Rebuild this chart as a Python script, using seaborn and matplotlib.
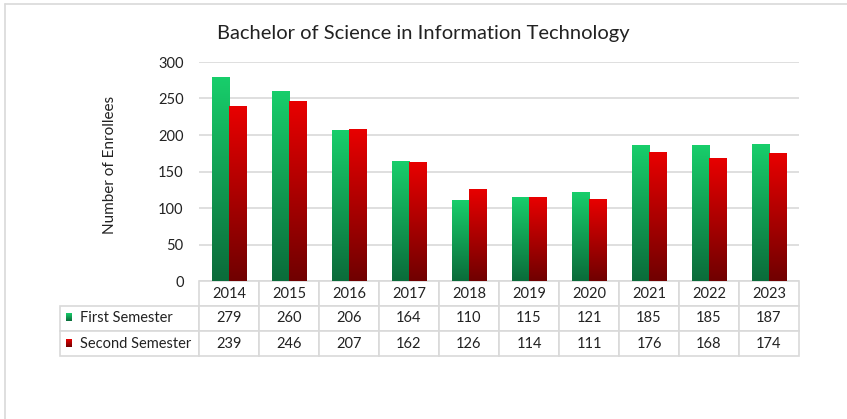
import numpy as np
import pandas as pd
import seaborn as sns
import matplotlib.pyplot as plt
from matplotlib.colors import LinearSegmentedColormap
from matplotlib.lines import Line2D

years = ['2014', '2015', '2016', '2017', '2018', '2019', '2020', '2021', '2022', '2023']
first_sem = [279, 260, 206, 164, 110, 115, 121, 185, 185, 187]
second_sem = [239, 246, 207, 162, 126, 114, 111, 176, 168, 174]
series = ['First Semester', 'Second Semester']

df = pd.DataFrame({
    'year': years * 2,
    'semester': [series[0]] * len(years) + [series[1]] * len(years),
    'enrollees': first_sem + second_sem,
})

green_cmap = LinearSegmentedColormap.from_list('g', ['#0b6b3a', '#18ce6b'])
red_cmap = LinearSegmentedColormap.from_list('r', ['#700000', '#e80000'])
cmaps = {series[0]: green_cmap, series[1]: red_cmap}

sns.set_theme(style='white')
plt.rcParams['font.family'] = ['Lato', 'DejaVu Sans']
text_color = '#222222'
grid_color = '#d9d9d9'

W, H = 847, 419
fig = plt.figure(figsize=(W / 100, H / 100), dpi=100)
# plot area in pixels: x 199..799, y 62..281
ax = fig.add_axes([199 / W, 1 - 281 / H, 600 / W, 219 / H])

sns.barplot(data=df, x='year', y='enrollees', hue='semester', order=years,
            hue_order=series, palette=['#18ce6b', '#e80000'], width=0.58,
            gap=0, legend=False, ax=ax, zorder=2)

# replace flat bars with vertical gradients
grad = np.linspace(0, 1, 256).reshape(-1, 1)
n = len(years)
for i, bar in enumerate(ax.patches[:2 * n]):
    cmap = cmaps[series[i // n]]
    x0, y0 = bar.get_x(), bar.get_y()
    x1, y1 = x0 + bar.get_width(), y0 + bar.get_height()
    ax.imshow(grad, extent=[x0, x1, y0, y1], origin='lower', cmap=cmap,
              aspect='auto', zorder=2, interpolation='bilinear')
    bar.set_visible(False)

ax.set_yticks(range(0, 301, 50))
ax.yaxis.grid(True, color=grid_color, linewidth=1.2, zorder=0)
ax.set_axisbelow(True)
for s in ax.spines.values():
    s.set_visible(False)
ax.set_xticks([])
ax.set_xlabel('')
ax.set_ylabel('')
ax.tick_params(axis='y', length=0, pad=11, labelsize=10.5, labelcolor=text_color)

# data table beneath the plot
cell_text = [[''] + years,
             [series[0]] + [str(v) for v in first_sem],
             [series[1]] + [str(v) for v in second_sem]]
label_w = 139 / 600
tbl = ax.table(cellText=cell_text, cellLoc='center',
               colWidths=[label_w] + [0.1] * n,
               bbox=[-label_w, -75 / 219, 1 + label_w, 75 / 219])
tbl.auto_set_font_size(False)
for (r, c), cell in tbl.get_celld().items():
    cell.set_edgecolor(grid_color)
    cell.set_linewidth(1.2)
    cell.get_text().set_fontsize(10.5)
    cell.get_text().set_color(text_color)
    if c == 0:
        if r == 0:
            cell.visible_edges = ''
        else:
            cell.get_text().set_ha('left')
            cell.PAD = 0.145

# legend keys inside the table
def px_to_ax(px, py):
    return (px - 199) / 600, (281 - py) / 219

for k, s in enumerate(series):
    cy = 317.5 + k * 25.5
    xa0, ya0 = px_to_ax(66, cy + 4)
    xa1, ya1 = px_to_ax(72, cy - 4)
    ax.imshow(grad, extent=[xa0, xa1, ya0, ya1], origin='lower', cmap=cmaps[s],
              aspect='auto', transform=ax.transAxes, clip_on=False, zorder=5)

ax.set_xlim(-0.5, n - 0.5)
ax.set_ylim(0, 300)

fig.text(0.5, 1 - 34 / H, 'Bachelor of Science in Information Technology',
         ha='center', va='center', fontsize=14.5, color=text_color)
fig.text(110 / W, 1 - 165 / H, 'Number of Enrollees', rotation=90,
         ha='center', va='center', fontsize=11, color=text_color)

# outer chart border
fig.add_artist(Line2D([4.5 / W, 4.5 / W], [0, 1 - 4.5 / H], color=grid_color, lw=1.2))
fig.add_artist(Line2D([4.5 / W, 1], [1 - 4.5 / H, 1 - 4.5 / H], color=grid_color, lw=1.2))

fig.savefig('out.png', dpi=100, facecolor='white')
